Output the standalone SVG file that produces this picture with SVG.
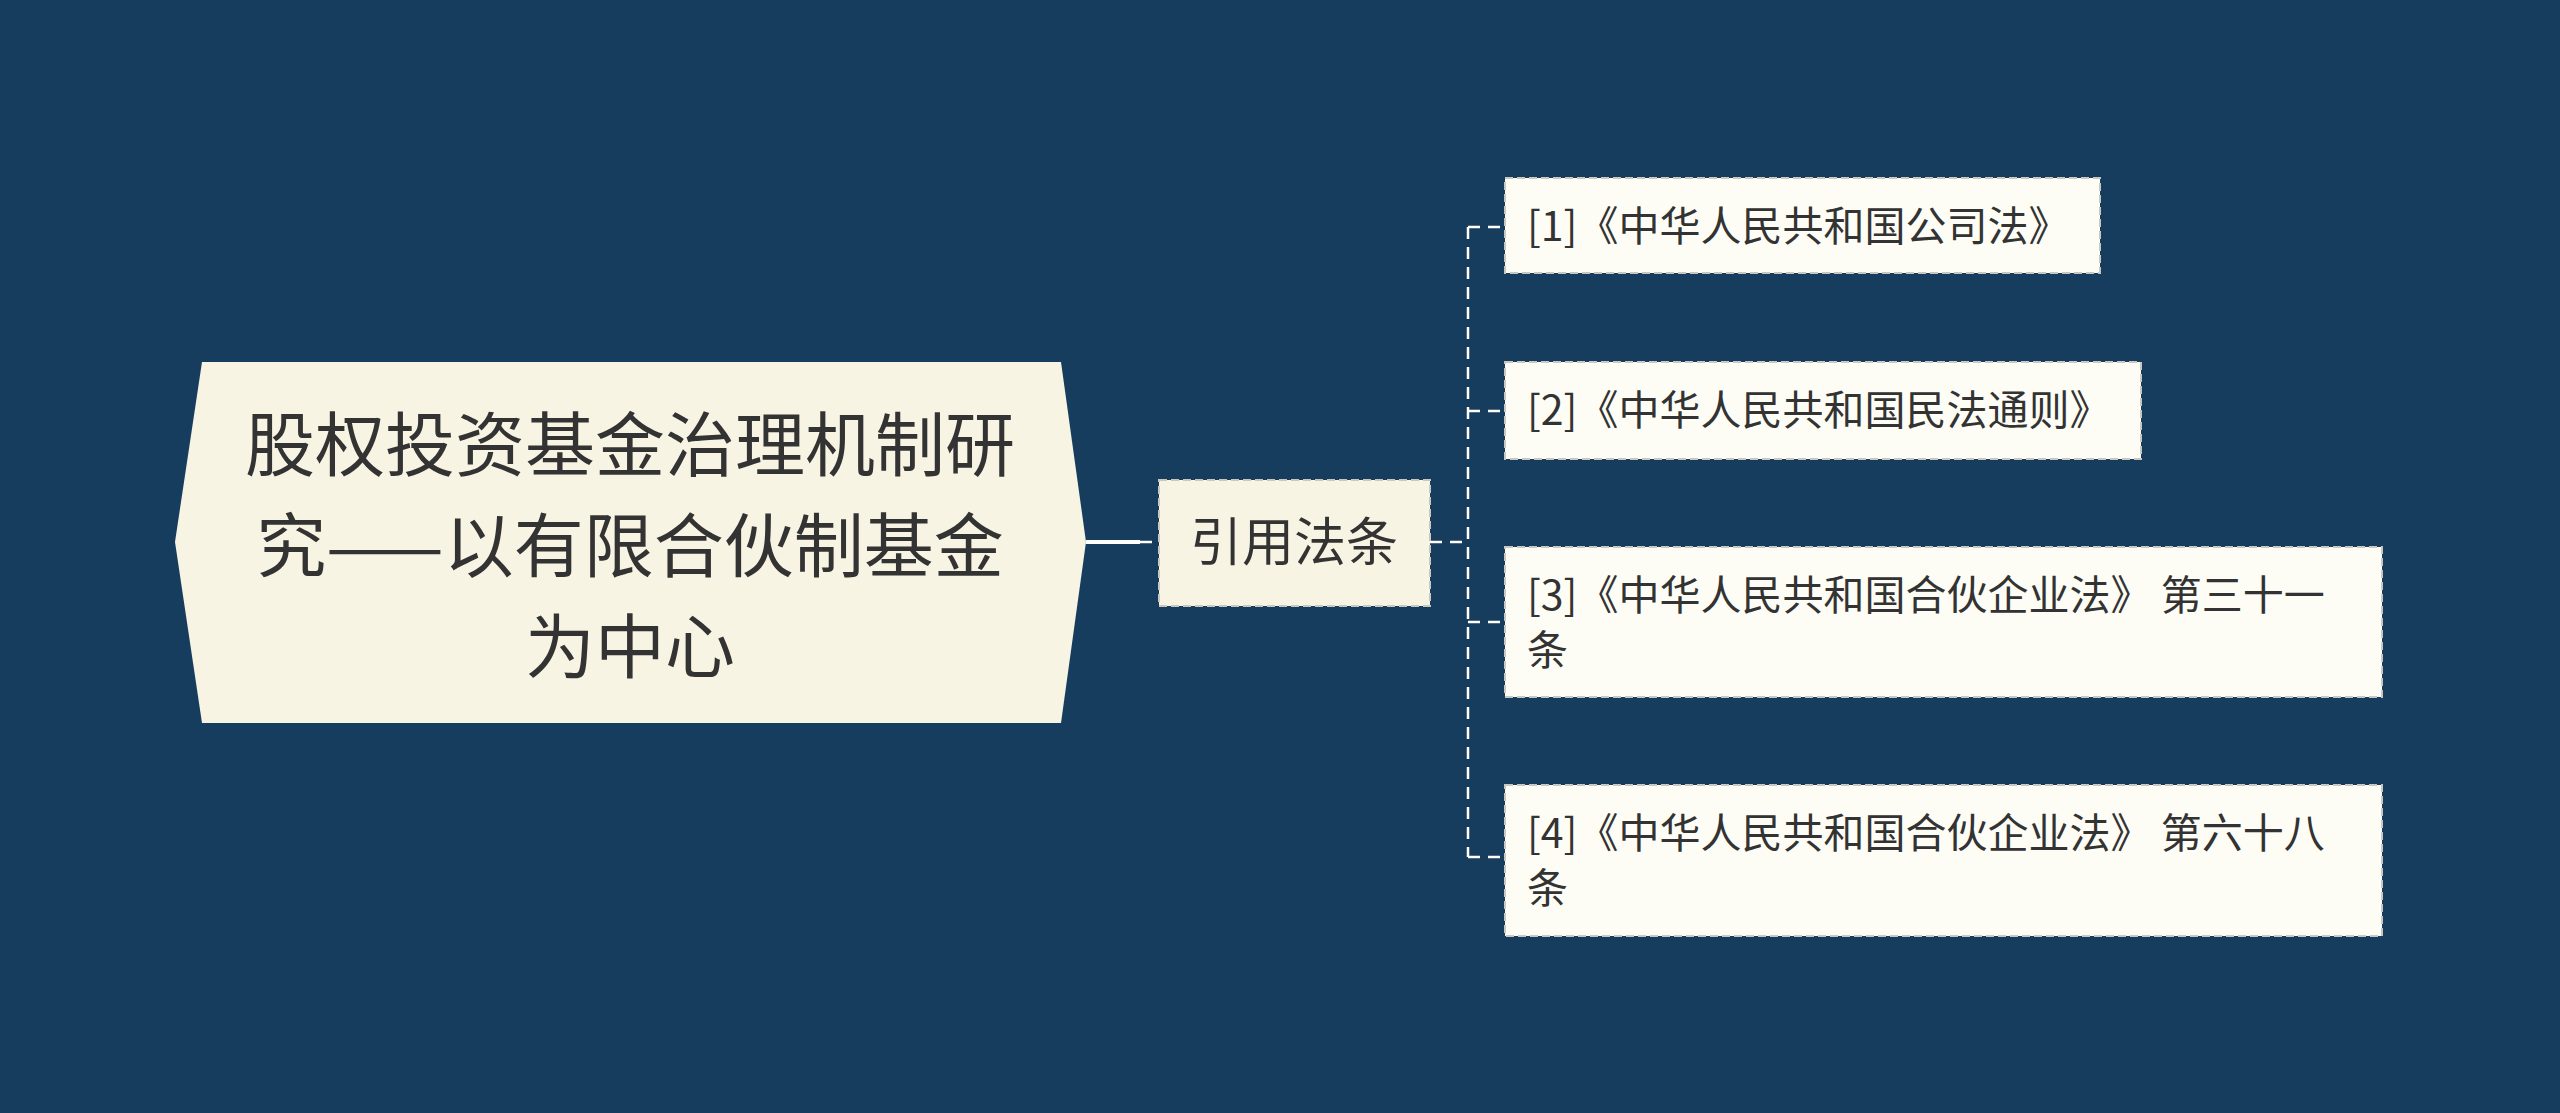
<svg xmlns="http://www.w3.org/2000/svg" width="2560" height="1113" viewBox="0 0 2560 1113">
<style>
text{font-family:"Noto Sans CJK SC","Noto Sans",sans-serif;fill:#333333}
.leaf{fill:#fdfdf6;stroke:#c8c8c0;stroke-width:2;stroke-dasharray:8 4}
.con{fill:none;stroke:#ffffff;stroke-width:2.5;stroke-dasharray:12 8}
.lt{font-size:41px}
</style>
<rect width="2560" height="1113" fill="#173d5e"/>
<g id="connectors">
<line x1="1086" y1="542" x2="1140" y2="542" stroke="#ffffff" stroke-width="4"/>
<line x1="1140" y1="542" x2="1159" y2="542" class="con"/>
<path class="con" d="M1430 542H1468M1468 227V857M1468 227H1505M1468 411H1505M1468 622H1505M1468 857H1505"/>
</g>
<g id="root">
<polygon points="175,542 202,362 1061,362 1086,542 1061,723 202,723" fill="#f8f4e3"/>
<text x="630" y="471" font-size="70" text-anchor="middle">股权投资基金治理机制研</text>
<text x="630" y="572" font-size="70" text-anchor="middle">究——以有限合伙制基金</text>
<text x="630" y="673" font-size="70" text-anchor="middle">为中心</text>
</g>
<g id="n-cite">
<rect x="1159" y="480" width="271" height="126" fill="#f8f4e3" stroke="#c8c8c0" stroke-width="2" stroke-dasharray="8 4"/>
<text x="1294" y="561" font-size="52" text-anchor="middle">引用法条</text>
</g>
<g id="leaf1"><rect class="leaf" x="1505" y="178" width="595" height="95"/><text class="lt" x="1527" y="241">[1]《中华人民共和国公司法》</text></g>
<g id="leaf2"><rect class="leaf" x="1505" y="362" width="636" height="97"/><text class="lt" x="1527" y="425">[2]《中华人民共和国民法通则》</text></g>
<g id="leaf3"><rect class="leaf" x="1505" y="547" width="877" height="150"/><text class="lt" x="1527" y="610">[3]《中华人民共和国合伙企业法》 第三十一</text><text class="lt" x="1527" y="665">条</text></g>
<g id="leaf4"><rect class="leaf" x="1505" y="785" width="877" height="151"/><text class="lt" x="1527" y="848">[4]《中华人民共和国合伙企业法》 第六十八</text><text class="lt" x="1527" y="903">条</text></g>
</svg>
